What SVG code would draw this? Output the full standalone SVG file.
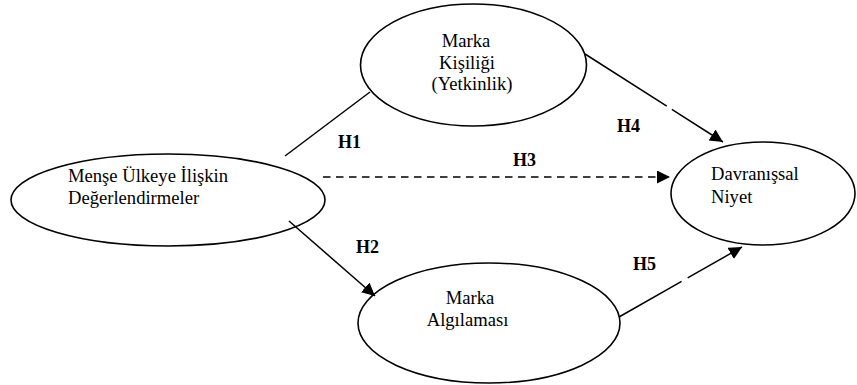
<svg xmlns="http://www.w3.org/2000/svg" width="857" height="385" viewBox="0 0 857 385">
  <style>
    .node { fill: #ffffff; stroke: #000000; stroke-width: 1.6; }
    .txt { font-family: "Liberation Serif", "Times New Roman", serif; font-size: 18.6px; fill: #000000; }
    .lbl { font-family: "Liberation Serif", "Times New Roman", serif; font-size: 18px; font-weight: bold; fill: #000000; }
    .edge { fill: none; stroke: #000000; stroke-width: 1.5; }
  </style>
  <defs>
    <marker id="arrow" markerUnits="userSpaceOnUse" markerWidth="14" markerHeight="14" refX="13" refY="6.5" orient="auto">
      <path d="M0,0 L13,6.5 L0,13 z" fill="#000000"/>
    </marker>
  </defs>
  <rect x="0" y="0" width="857" height="385" fill="#ffffff"/>

  <g id="node-mense">
    <ellipse class="node" cx="168" cy="200" rx="157" ry="46"/>
    <text class="txt" x="68" y="182">Menşe Ülkeye İlişkin</text>
    <text class="txt" x="68" y="204">Değerlendirmeler</text>
  </g>

  <g id="node-kisilik">
    <ellipse class="node" cx="473.5" cy="65" rx="113" ry="61"/>
    <text class="txt" x="466" y="47" text-anchor="middle">Marka</text>
    <text class="txt" x="467" y="69" text-anchor="middle">Kişiliği</text>
    <text class="txt" x="472" y="90" text-anchor="middle">(Yetkinlik)</text>
  </g>

  <g id="node-algilama">
    <ellipse class="node" cx="489" cy="323" rx="131" ry="60"/>
    <text class="txt" x="470" y="304" text-anchor="middle">Marka</text>
    <text class="txt" x="467.5" y="326" text-anchor="middle">Algılaması</text>
  </g>

  <g id="node-niyet">
    <ellipse class="node" cx="763" cy="193.5" rx="92" ry="51.5"/>
    <text class="txt" x="711" y="180">Davranışsal</text>
    <text class="txt" x="711" y="203">Niyet</text>
  </g>

  <g id="connectors">
    <line class="edge" x1="285" y1="156" x2="370" y2="92"/>
    <line class="edge" x1="323" y1="177" x2="670" y2="177" stroke-dasharray="7.5 5.5" marker-end="url(#arrow)"/>
    <line class="edge" x1="585" y1="54" x2="723" y2="142" stroke-dasharray="97 6 1000" marker-end="url(#arrow)"/>
    <line class="edge" x1="289" y1="221" x2="375" y2="296" marker-end="url(#arrow)"/>
    <line class="edge" x1="619" y1="317" x2="742" y2="247" stroke-dasharray="72 7 1000" marker-end="url(#arrow)"/>
    <text class="lbl" x="338" y="148">H1</text>
    <text class="lbl" x="513" y="166">H3</text>
    <text class="lbl" x="617" y="132">H4</text>
    <text class="lbl" x="356" y="253">H2</text>
    <text class="lbl" x="633" y="270">H5</text>
  </g>
</svg>
